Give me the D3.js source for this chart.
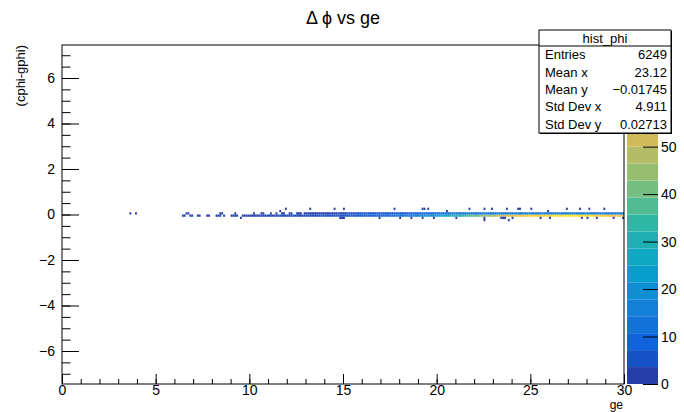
<!DOCTYPE html>
<html><head><meta charset="utf-8">
<script src="https://cdn.jsdelivr.net/npm/d3@7"></script>
<style>
body{margin:0;background:#fff}
svg{display:block}
text{font-family:"Liberation Sans",Arial,Helvetica,sans-serif;fill:#000}
</style>
</head><body>
<svg id="c" width="684" height="412"></svg>
<script>
// ---------------- DATA ----------------
const histTitle = "Δ ϕ vs ge";
const histName = "hist_phi";
const xTitle = "ge";
const yTitle = "(cphi-gphi)";
const xDomain = [0, 30];
const yDomain = [-7.45, 7.45];
const xBinWidth = 0.1;
const yBinWidth = 0.1;
const xMajorTicks = [0, 5, 10, 15, 20, 25, 30];
const yMajorTicks = [-6, -4, -2, 0, 2, 4, 6];
const zMax = 71.4;
const zTicks = [0, 10, 20, 30, 40, 50];
const nContours = 20;

// main rows start at bin 64 (x = 6.4) and run to bin 299 (x = 29.9)
const mainStartBin = 64;
// counts for y bin [-0.1, 0)
const rowMinus = [
  1,1,0,0,1,1,0,0,1,1, 0,0,0,1,1,0,0,0,1,1, 1,0,1,0,0,0,1,1,1,1, 0,0,1,1,1,1,
  2,3,2,4,3,2,4,1,3,4, 3,4,2,3,4,2,5,4,3,4, 4,3,5,4,3,5,4,3,5,4,
  3,4,3,5,4,3,5,6,4,5, 4,5,6,5,4,6,5,7,6,5, 6,5,7,6,8,6,5,7,8,6, 7,8,6,9,7,8,10,8,9,7,
  9,10,8,11,10,12,11,9,12,13, 12,14,13,15,12,14,16,15,17,14, 16,18,17,19,18,20,19,18,21,22,
  22,24,23,26,25,28,27,29,30,28, 31,33,32,34,35,33,36,38,37,39, 40,38,41,43,42,44,45,43,46,47,
  46,48,50,49,51,53,52,54,55,53, 56,55,57,58,56,59,58,60,59,61, 60,62,61,63,60,62,64,63,61,65,
  62,64,66,63,65,67,64,66,65,68, 66,64,67,65,68,66,63,67,65,64, 66,63,65,62,64,61,63,60,62,59,
  61,58,60,57,59,56,58,55,57,54
];
// counts for y bin [0, 0.1)
const rowPlus = [
  0,0,1,1,0,0,0,0,0,0, 0,0,0,0,0,0,0,0,0,0, 1,1,0,0,0,0,0,0,1,0, 0,0,0,0,0,0,
  0,0,1,0,0,0,1,1,0,0, 0,1,0,0,1,0,0,1,1,0, 0,1,1,0,0,1,2,1,0,1,
  1,2,1,2,3,2,1,2,3,2, 3,2,3,4,3,2,3,4,3,3, 4,3,4,5,4,3,4,5,4,5, 4,5,6,5,4,5,6,5,6,5,
  5,6,5,7,6,5,7,6,7,8, 6,7,8,7,8,9,7,8,9,8, 9,8,10,9,8,10,9,10,11,9,
  10,9,11,10,12,11,10,12,11,13, 12,11,13,12,14,13,12,14,13,12, 14,13,12,14,13,15,12,14,13,15,
  13,14,12,15,13,14,16,13,15,14, 12,15,13,16,14,13,15,14,12,16, 14,13,15,12,14,16,13,15,14,12,
  15,13,14,16,12,15,14,13,15,12, 14,16,13,15,14,12,15,13,14,16, 13,15,12,14,13,16,14,12,15,13,
  14,12,15,13,16,14,12,15,13,14
];
// isolated outlier bins: low x edge, low y edge, count
const scatterX = [3.6, 3.9, 11.6, 11.9, 13.2, 14.5, 15.0, 17.7, 19.2, 19.3, 19.5, 20.5, 21.7, 22.5, 22.9,
  23.7, 24.3, 24.4, 25.0, 25.9, 26.9, 27.6, 28.1, 28.9,
  9.5, 14.8, 14.9, 15.0, 16.9, 18.0, 18.6, 19.2, 19.8, 21.0, 22.5, 23.4, 23.5, 23.6, 24.0,
  25.5, 26.0, 27.7, 28.0, 28.5, 29.4, 29.9, 22.5, 23.8];
const scatterY = [0.0, 0.0, 0.1, 0.2, 0.2, 0.2, 0.2, 0.2, 0.2, 0.2, 0.2, 0.1, 0.2, 0.2, 0.2,
  0.2, 0.2, 0.2, 0.2, 0.1, 0.2, 0.2, 0.2, 0.2,
  -0.2, -0.2, -0.2, -0.2, -0.2, -0.2, -0.2, -0.2, -0.2, -0.2, -0.2, -0.2, -0.2, -0.2, -0.2,
  -0.2, -0.2, -0.2, -0.2, -0.2, -0.2, -0.2, -0.3, -0.3];
const scatterN = [1, 1, 2, 1, 1, 1, 1, 1, 1, 1, 1, 2, 1, 1, 1,
  1, 1, 1, 1, 1, 1, 1, 1, 1,
  2, 3, 3, 3, 2, 2, 2, 2, 2, 1, 1, 2, 2, 2, 1,
  2, 1, 2, 2, 2, 1, 3, 1, 1];

const statLabels = ["Entries", "Mean x", "Mean y", "Std Dev x", "Std Dev y"];
const statValues = ["6249", "23.12", "\u22120.01745", "4.911", "0.02713"];

// ROOT kBird palette stops
const paletteStops = ["#352a87", "#0f5cdd", "#1481d6", "#06a4ca", "#2eb7a4", "#87bf77", "#d1bb59", "#fec832", "#f9fb0e"];

// ---------------- DRAW ----------------
const frame = {left: 62, right: 624, top: 45, bottom: 384};
const pal = {left: 627, right: 658};
const svg = d3.select("#c");
svg.append("rect").attr("width", 684).attr("height", 412).attr("fill", "#fff");

const x = d3.scaleLinear().domain(xDomain).range([frame.left, frame.right]);
const y = d3.scaleLinear().domain(yDomain).range([frame.bottom, frame.top]);
const z = d3.scaleLinear().domain([0, zMax]).range([frame.bottom, frame.top]);
const interp = d3.piecewise(d3.interpolateRgb, paletteStops);
const bandColor = i => interp(Math.min(1, (i + 0.99) / nContours));
const colorOf = n => bandColor(Math.max(0, Math.min(nContours - 1, Math.floor(n * nContours / zMax))));

// assemble cells
const cells = [];
rowMinus.forEach((n, i) => { if (n > 0) cells.push({x0: (mainStartBin + i) * xBinWidth, y0: -yBinWidth, n}); });
rowPlus.forEach((n, i) => { if (n > 0) cells.push({x0: (mainStartBin + i) * xBinWidth, y0: 0, n}); });
scatterX.forEach((sx, i) => cells.push({x0: sx, y0: scatterY[i], n: scatterN[i]}));

const gCells = svg.append("g");
gCells.selectAll("rect").data(cells).join("rect")
  .attr("x", d => x(d.x0))
  .attr("width", d => x(d.x0 + xBinWidth) - x(d.x0))
  .attr("y", d => y(d.y0 + yBinWidth))
  .attr("height", d => y(d.y0) - y(d.y0 + yBinWidth))
  .attr("fill", d => colorOf(d.n));

// frame
svg.append("rect").attr("x", frame.left).attr("y", frame.top)
  .attr("width", frame.right - frame.left).attr("height", frame.bottom - frame.top)
  .attr("fill", "none").attr("stroke", "#000").attr("stroke-width", 1);

const fontFam = '"Liberation Sans",Arial,sans-serif';
// x axis
const xMinor = d3.range(0, 31, 1);
const gxm = svg.append("g").attr("transform", `translate(0,${frame.bottom})`)
  .call(d3.axisBottom(x).tickValues(xMinor).tickSizeInner(-5).tickSizeOuter(0).tickFormat(""));
const gx = svg.append("g").attr("transform", `translate(0,${frame.bottom})`)
  .call(d3.axisBottom(x).tickValues(xMajorTicks).tickSizeInner(-10).tickSizeOuter(0).tickPadding(1).tickFormat(d3.format("d")));
// y axis
const yMinor = d3.range(-7, 7.01, 0.5);
const gym = svg.append("g").attr("transform", `translate(${frame.left},0)`)
  .call(d3.axisLeft(y).tickValues(yMinor).tickSizeInner(-8.5).tickSizeOuter(0).tickFormat(""));
const gy = svg.append("g").attr("transform", `translate(${frame.left},0)`)
  .call(d3.axisLeft(y).tickValues(yMajorTicks).tickSizeInner(-17).tickSizeOuter(0).tickPadding(7).tickFormat(d3.format("d")));
[gxm, gx, gym, gy].forEach(g => {
  g.select(".domain").remove();
  g.selectAll("line").attr("stroke", "#000");
  g.selectAll("text").attr("font-size", 14).attr("font-family", fontFam).attr("fill", "#000");
});

// palette
const bands = d3.range(nContours);
svg.append("g").selectAll("rect").data(bands).join("rect")
  .attr("x", pal.left).attr("width", pal.right - pal.left)
  .attr("y", i => z((i + 1) * zMax / nContours))
  .attr("height", i => z(i * zMax / nContours) - z((i + 1) * zMax / nContours))
  .attr("fill", i => bandColor(i));
const gz = svg.append("g").attr("transform", `translate(${pal.right},0)`)
  .call(d3.axisRight(z).tickValues(zTicks).tickSizeInner(-15).tickSizeOuter(0).tickPadding(3).tickFormat(d3.format("d")));
gz.select(".domain").remove();
gz.selectAll("line").attr("stroke", "#000");
gz.selectAll("text").attr("font-size", 14).attr("font-family", fontFam).attr("fill", "#000");

// titles
svg.append("text").attr("x", 343).attr("y", 24).attr("text-anchor", "middle").attr("font-size", 18).text(histTitle);
svg.append("text").attr("transform", `translate(25,${frame.top}) rotate(-90)`).attr("text-anchor", "end").attr("font-size", 13).text(yTitle);
svg.append("text").attr("x", frame.right - 1).attr("y", 409).attr("text-anchor", "end").attr("font-size", 12).text(xTitle);

// stats box
const sb = {x: 539, y: 30, w: 132, h: 103, head: 16};
svg.append("rect").attr("x", sb.x + 1).attr("y", sb.y + 1).attr("width", sb.w).attr("height", sb.h).attr("fill", "#000");
svg.append("rect").attr("x", sb.x).attr("y", sb.y).attr("width", sb.w).attr("height", sb.h).attr("fill", "#fff").attr("stroke", "#000");
svg.append("line").attr("x1", sb.x).attr("x2", sb.x + sb.w).attr("y1", sb.y + sb.head).attr("y2", sb.y + sb.head).attr("stroke", "#000");
svg.append("text").attr("x", sb.x + sb.w / 2).attr("y", sb.y + 12.5).attr("text-anchor", "middle").attr("font-size", 13).text(histName);
const rowH = (sb.h - sb.head) / statLabels.length;
statLabels.forEach((lab, i) => {
  const by = sb.y + sb.head + rowH * (i + 0.5) + 4.5;
  svg.append("text").attr("x", sb.x + 6).attr("y", by).attr("font-size", 13).text(lab);
  svg.append("text").attr("x", sb.x + sb.w - 4).attr("y", by).attr("text-anchor", "end").attr("font-size", 13).text(statValues[i]);
});
</script>
</body></html>
